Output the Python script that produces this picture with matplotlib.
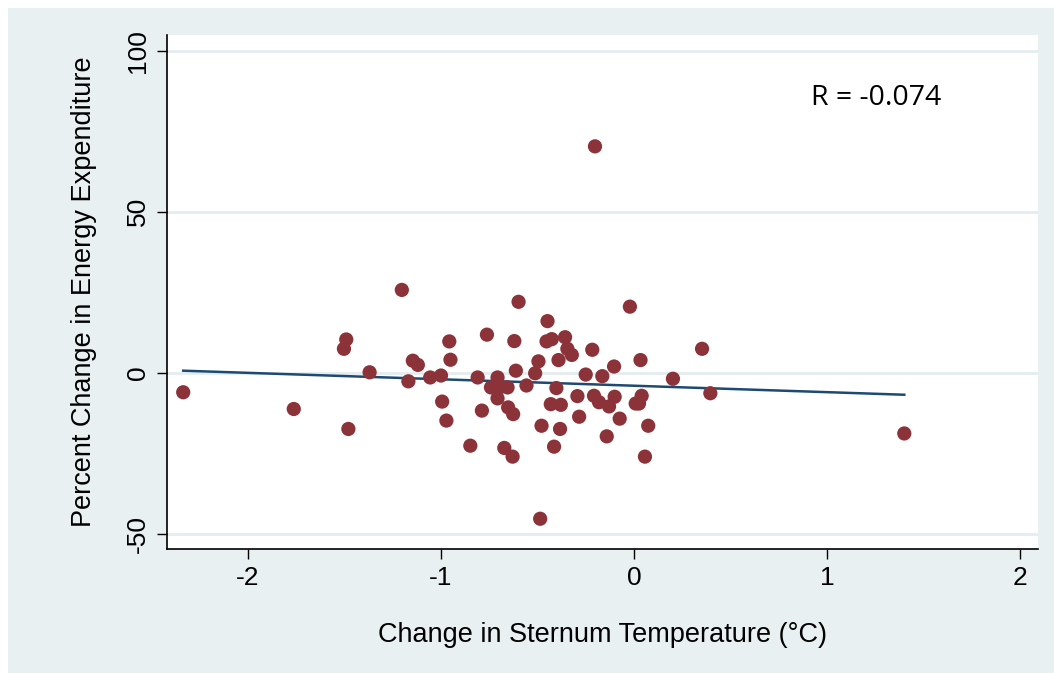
import numpy as np
import matplotlib
matplotlib.use("Agg")
from matplotlib import pyplot as plt
from matplotlib.patches import Rectangle

# change in sternum temperature (deg C) vs percent change in energy expenditure
temp_change = [
    -2.336, -1.763, -1.480, -1.491, -1.503, -1.370, -1.203, -1.146, -1.120, -1.169,
    -1.056, -1.000, -0.957, -0.951, -0.994, -0.972, -0.598, -0.762, -0.620, -0.810,
    -0.707, -0.741, -0.689, -0.655, -0.707, -0.612, -0.557, -0.512, -0.495, -0.448,
    -0.453, -0.426, -0.357, -0.345, -0.322, -0.391, -0.402, -0.431, -0.379, -0.788,
    -0.652, -0.626, -0.848, -0.672, -0.629, -0.479, -0.383, -0.414, -0.284, -0.293,
    -0.250, -0.216, -0.164, -0.207, -0.181, -0.129, -0.100, -0.074, -0.141, -0.103,
    -0.021, 0.034, 0.040, 0.009, 0.026, 0.074, 0.057, 0.202, 0.353, 0.396,
    -0.202, -0.486, 1.401,
]
ee_change = [
    -6.1, -11.3, -17.5, 10.3, 7.4, 0.1, 25.7, 3.7, 2.4, -2.7,
    -1.5, -0.9, 9.7, 4.0, -9.0, -14.9, 22.0, 11.8, 9.8, -1.5,
    -1.5, -4.6, -4.4, -4.6, -8.0, 0.6, -4.0, -0.2, 3.5, 16.0,
    9.7, 10.4, 11.0, 7.4, 5.5, 3.9, -4.8, -9.8, -10.0, -11.8,
    -10.8, -12.9, -22.7, -23.4, -26.1, -16.5, -17.5, -23.0, -13.7, -7.3,
    -0.6, 7.1, -1.1, -7.2, -9.2, -10.5, -7.5, -14.3, -19.8, 1.9,
    20.5, 3.9, -7.2, -9.6, -9.6, -16.5, -26.1, -1.9, 7.4, -6.4,
    70.3, -45.4, -18.9,
]

# fitted line as drawn in the original
fit_intercept = -4.07
fit_slope = -2.0

x_ticks = [-2, -1, 0, 1, 2]
y_ticks = [-50, 0, 50, 100]

bg = "#e8f0f2"
dot_color = "#8b3339"
line_color = "#1d4a73"

plt.rcParams['font.family'] = ['Liberation Sans', 'DejaVu Sans']

fig = plt.figure(figsize=(10.54, 6.73), dpi=100)
fig.patch.set_facecolor("white")
fig.patches.append(Rectangle((8 / 1054, 0), 1, 1 - 8 / 673, transform=fig.transFigure,
                             facecolor=bg, edgecolor="none", zorder=-10))

ax = fig.add_axes([167 / 1054, 1 - 549 / 673, (1038 - 167) / 1054, (549 - 35) / 673])
ax.set_facecolor("white")

x = np.array(temp_change)
y = np.array(ee_change)
xs = np.array([x.min(), x.max()])
ax.plot(xs, fit_intercept + fit_slope * xs, color=line_color, lw=1.8, zorder=3)
ax.scatter(x, y, s=105, color=dot_color, edgecolors="none", zorder=4)

ax.set_xlim(-2.42, 2.094)
ax.set_ylim(-54.8, 104.9)
ax.set_xticks(x_ticks)
ax.set_yticks(y_ticks)
ax.set_xticklabels([str(t) for t in x_ticks], fontsize=19)
ax.set_yticklabels([str(t) for t in y_ticks], fontsize=19, rotation=90, va="center")
ax.tick_params(direction="out", length=7, width=1, pad=5)

ax.yaxis.grid(True, color="#e4ecf0", lw=2)
ax.set_axisbelow(True)
for side in ["top", "right"]:
    ax.spines[side].set_visible(False)
ax.spines["left"].set_linewidth(1.2)
ax.spines["bottom"].set_linewidth(1.2)

ax.set_xlabel("Change in Sternum Temperature (°C)", fontsize=19.5, labelpad=23)
ax.set_ylabel("Percent Change in Energy Expenditure", fontsize=19.5, labelpad=21)

ax.text(1.256, 85.3, "R = -0.074", fontsize=20.5, family=["Open Sans", "DejaVu Sans"],
        ha="center", va="center")

plt.savefig("out.png", dpi=100, facecolor=fig.get_facecolor())
